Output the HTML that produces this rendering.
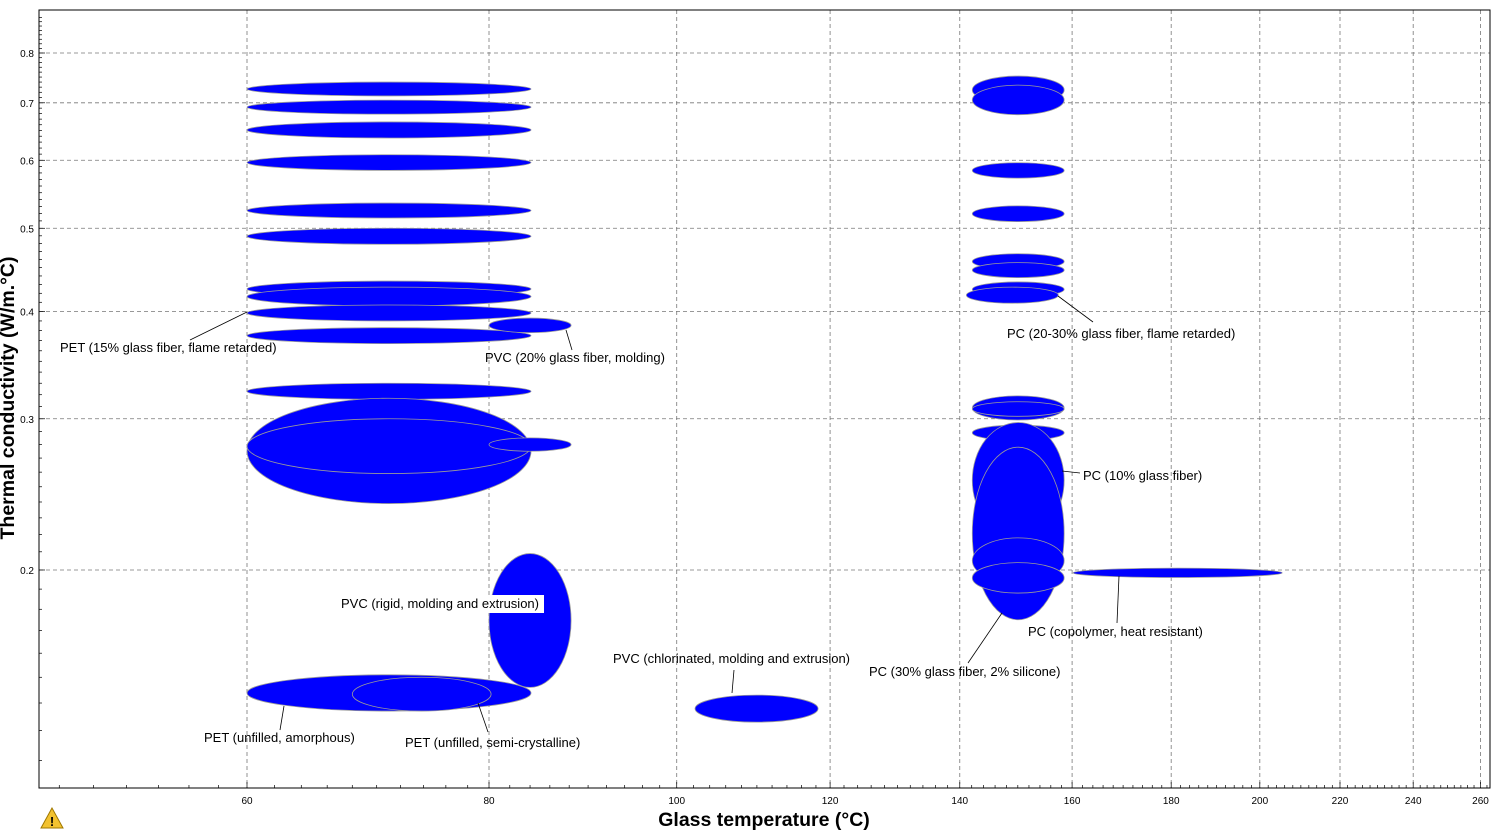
<!DOCTYPE html>
<html><head><meta charset="utf-8"><style>
body{margin:0;background:#fff;font-family:"Liberation Sans",sans-serif}
svg text{font-family:"Liberation Sans",sans-serif}
</style></head><body>
<svg id="c" width="1503" height="830" xmlns="http://www.w3.org/2000/svg"></svg>
<script>
const xTicks=[60,80,100,120,140,160,180,200,220,240,260];
const yTicks=[0.2,0.3,0.4,0.5,0.6,0.7,0.8];
const tLow =[60,60,60,60,60,60,60,60,60,60,60,60,60,80,80,80,60,68,102.2,142.1,142.1,142.1,142.1,142.1,142.1,142.1,141.1,142.1,142.1,142.1,142.1,142.1,142.1,142.1,160.2];
const tHigh=[84.1,84.1,84.1,84.1,84.1,84.1,84.1,84.1,84.1,84.1,84.1,84.1,84.1,88.2,88.2,88.2,84.1,80.2,118.3,158.5,158.5,158.5,158.5,158.5,158.5,158.5,157.4,158.5,158.5,158.5,158.5,158.5,158.5,158.5,205.4];
const kLow =[0.713,0.679,0.637,0.584,0.514,0.479,0.416,0.406,0.390,0.367,0.316,0.239,0.259,0.378,0.275,0.146,0.137,0.137,0.133,0.698,0.678,0.572,0.509,0.448,0.438,0.416,0.409,0.299,0.302,0.283,0.218,0.175,0.193,0.188,0.196];
const kHigh=[0.740,0.705,0.665,0.609,0.535,0.500,0.434,0.427,0.407,0.383,0.330,0.317,0.300,0.393,0.285,0.209,0.151,0.150,0.143,0.752,0.734,0.596,0.531,0.467,0.456,0.433,0.427,0.319,0.314,0.295,0.297,0.278,0.218,0.204,0.201];
const X=v=>247+(Math.log10(v)-Math.log10(60))*1937;
const Y=v=>53-(Math.log10(v)-Math.log10(0.8))*858.7;
const svg=document.getElementById('c');const NS='http://www.w3.org/2000/svg';
function mk(t,a,p){const e=document.createElementNS(NS,t);for(const k in a)e.setAttribute(k,a[k]);(p||svg).appendChild(e);return e;}
const L=39,R=1490,T=10,B=788;
xTicks.forEach(v=>{const g=mk('line',{x1:X(v),x2:X(v),y1:T,y2:B,stroke:'#777','stroke-dasharray':'4,3','stroke-width':0.8});

const t=mk('text',{x:X(v),y:804,'font-size':10,'text-anchor':'middle'});t.textContent=v;
});
yTicks.forEach(v=>{const g=mk('line',{x1:L,x2:R,y1:Y(v),y2:Y(v),stroke:'#777','stroke-dasharray':'4,3','stroke-width':0.8});

const t=mk('text',{x:34,y:Y(v)+4,'font-size':10,'text-anchor':'end'});t.textContent=v;
});
for(let v=48;v<=262;v+=2){mk('line',{x1:X(v),x2:X(v),y1:B,y2:B-(v%20==0?6:3),stroke:'#000','stroke-width':0.7});}
for(let v=0.12;v<=0.89;v+=0.01){mk('line',{x1:L,x2:L+(Math.abs(v*10-Math.round(v*10))<1e-6?6:3),y1:Y(v),y2:Y(v),stroke:'#000','stroke-width':0.7});}
const fr=mk('rect',{x:L,y:T,width:R-L,height:B-T,fill:'none',stroke:'#000','stroke-width':1});

tLow.forEach((_,i)=>{const x1=X(tLow[i]),x2=X(tHigh[i]),y1=Y(kHigh[i]),y2=Y(kLow[i]);
const e=mk('ellipse',{cx:(x1+x2)/2,cy:(y1+y2)/2,rx:(x2-x1)/2,ry:(y2-y1)/2,fill:'#0000ff',stroke:'#9a9a9a','stroke-width':0.8});

});
const labels=[
["PET (15% glass fiber, flame retarded)",60,352,190,340,247,312],
["PVC (20% glass fiber, molding)",485,362,572,350,566,330],
["PC (20-30% glass fiber, flame retarded)",1007,338,1093,322,1058,296],
["PC (10% glass fiber)",1083,480,1080,473,1062,471],
["PVC (rigid, molding and extrusion)",341,608,null],
["PVC (chlorinated, molding and extrusion)",613,663,734,670,732,693],
["PC (copolymer, heat resistant)",1028,636,1117,623,1119,576],
["PC (30% glass fiber, 2% silicone)",869,676,968,663,1002,613],
["PET (unfilled, amorphous)",204,742,280,730,284,706],
["PET (unfilled, semi-crystalline)",405,747,488,732,478,703]];
labels.forEach(l=>{
if(l[3]!==null&&l[3]!==undefined){const ln=mk('line',{x1:l[3],y1:l[4],x2:l[5],y2:l[6],stroke:'#000','stroke-width':0.8});
}
if(l[0].startsWith("PVC (rigid")){mk('rect',{x:338,y:595,width:206,height:18,fill:'#fff'});}
const t=mk('text',{x:l[1],y:l[2],'font-size':13,textLength:0});t.removeAttribute('textLength');t.textContent=l[0];
});
const xt=mk('text',{x:764,y:826,'font-size':19.5,'font-weight':'bold','text-anchor':'middle'});xt.textContent='Glass temperature (°C)';

const yt=mk('text',{x:0,y:0,'font-size':19.5,'font-weight':'bold','text-anchor':'middle',transform:'translate(14,398) rotate(-90)'});yt.textContent='Thermal conductivity (W/m.°C)';

const w=mk('g',{});
mk('polygon',{points:'52,808 41,828 63,828',fill:'#f2c230',stroke:'#a07800','stroke-width':1},w);
const ex=mk('text',{x:52,y:826,'font-size':13,'font-weight':'bold','text-anchor':'middle'},w);ex.textContent='!';
</script></body></html>
